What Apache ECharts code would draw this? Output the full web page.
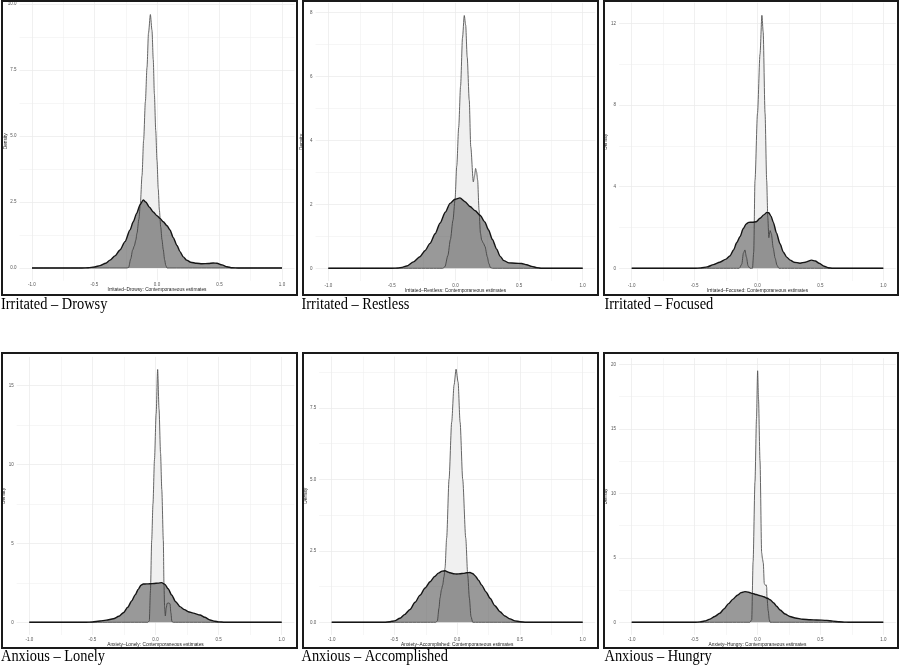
<!DOCTYPE html>
<html lang="en" style="height: 100%">
<head>
    <meta charset="utf-8">
    <title>Contemporaneous estimates - density</title>
    <script src="https://cdn.jsdelivr.net/npm/echarts@6.0.0/dist/echarts.min.js"></script>
    <style>
        body { margin: 0; background: #fff; }
        #main { width: 900px; height: 667px; }
    </style>
</head>
<body>
<div id="main"></div>
<script>
    // panel captions and axis titles
    var captions = ['Irritated – Drowsy', 'Irritated – Restless', 'Irritated – Focused',
                    'Anxious – Lonely', 'Anxious – Accomplished', 'Anxious – Hungry'];
    var xTitles = ['Irritated–Drowsy: Contemporaneous estimates',
                   'Irritated–Restless: Contemporaneous estimates',
                   'Irritated–Focused: Contemporaneous estimates',
                   'Anxiety–Lonely: Contemporaneous estimates',
                   'Anxiety–Accomplished: Contemporaneous estimates',
                   'Anxiety–Hungry: Contemporaneous estimates'];
    var xTickLabels = ['-1.0', '-0.5', '0.0', '0.5', '1.0'];
    var xMinorTicks = [-0.75, -0.25, 0.25, 0.75];
    var yTickLabels = [
        ['0.0', '2.5', '5.0', '7.5', '10.0'],
        ['0', '2', '4', '6', '8'],
        ['0', '4', '8', '12'],
        ['0', '5', '10', '15'],
        ['0.0', '2.5', '5.0', '7.5'],
        ['0', '5', '10', '15', '20']
    ];

    // density curves: [estimate, density]
    var drowsyNarrow = [[-1,0],[-0.24,0],[-0.227,0.02],[-0.21,0.35],[-0.195,0.68],[-0.181,0.84],[-0.17,1.05],[-0.16,1.32],[-0.145,1.85],[-0.133,2.45],[-0.12,3.5],[-0.107,4.84],[-0.093,6.3],[-0.08,7.6],[-0.068,8.9],[-0.053,9.6],[-0.04,9.0],[-0.03,7.9],[-0.021,6.6],[-0.01,5.2],[0,4.08],[0.01,3.0],[0.019,2.2],[0.03,1.55],[0.04,1.07],[0.05,0.7],[0.061,0.31],[0.07,0.1],[0.08,0],[1,0]];
    var drowsyWide = [[-1,0],[-0.6,0],[-0.55,0.01],[-0.5,0.04],[-0.456,0.09],[-0.41,0.18],[-0.376,0.3],[-0.336,0.46],[-0.296,0.68],[-0.256,1.0],[-0.216,1.44],[-0.19,1.75],[-0.163,2.07],[-0.135,2.4],[-0.11,2.58],[-0.09,2.5],[-0.06,2.3],[-0.03,2.12],[0,1.98],[0.024,1.88],[0.05,1.75],[0.08,1.6],[0.104,1.44],[0.13,1.15],[0.16,0.85],[0.184,0.62],[0.21,0.42],[0.237,0.3],[0.27,0.22],[0.317,0.18],[0.36,0.16],[0.41,0.17],[0.45,0.19],[0.48,0.18],[0.52,0.12],[0.56,0.05],[0.6,0.01],[0.65,0],[1,0]];

    var restlessNarrow = [[-1,0],[-0.1,0],[-0.083,0.05],[-0.06,0.4],[-0.04,0.9],[-0.02,1.5],[-0.004,2.13],[0.01,3.2],[0.025,4.4],[0.04,5.7],[0.055,7.2],[0.069,7.9],[0.08,7.6],[0.092,6.6],[0.108,5.26],[0.12,3.8],[0.14,2.7],[0.15,2.9],[0.158,3.12],[0.166,3.0],[0.174,2.76],[0.185,1.82],[0.196,1.1],[0.206,0.88],[0.22,0.78],[0.232,0.68],[0.25,0.36],[0.262,0.15],[0.275,0.02],[0.29,0],[1,0]];
    var restlessWide = [[-1,0],[-0.5,0],[-0.45,0.01],[-0.42,0.03],[-0.384,0.07],[-0.33,0.2],[-0.28,0.36],[-0.24,0.55],[-0.2,0.78],[-0.16,1.08],[-0.122,1.41],[-0.08,1.75],[-0.043,2.03],[-0.004,2.16],[0.035,2.2],[0.075,2.08],[0.114,1.93],[0.155,1.8],[0.193,1.66],[0.23,1.45],[0.26,1.2],[0.29,0.9],[0.324,0.6],[0.35,0.38],[0.38,0.24],[0.42,0.17],[0.47,0.16],[0.52,0.15],[0.56,0.11],[0.6,0.06],[0.64,0.02],[0.68,0],[1,0]];

    var focusedNarrow = [[-1,0],[-0.145,0],[-0.125,0.2],[-0.112,0.75],[-0.1,0.9],[-0.088,0.55],[-0.075,0.12],[-0.06,0],[-0.04,0],[-0.03,0.8],[-0.02,4.3],[0,7.6],[0.02,10.5],[0.035,12.4],[0.045,11.6],[0.06,7.6],[0.073,4.3],[0.082,2.5],[0.09,1.5],[0.1,1.85],[0.11,1.7],[0.125,1.0],[0.14,0.5],[0.155,0.15],[0.17,0],[1,0]];
    var focusedWide = [[-1,0],[-0.5,0],[-0.45,0.02],[-0.4,0.07],[-0.35,0.18],[-0.3,0.3],[-0.25,0.45],[-0.22,0.6],[-0.19,0.9],[-0.166,1.25],[-0.139,1.55],[-0.113,1.95],[-0.09,2.18],[-0.07,2.25],[-0.04,2.26],[-0.01,2.28],[0.02,2.45],[0.05,2.62],[0.075,2.74],[0.09,2.72],[0.108,2.55],[0.126,2.25],[0.15,1.75],[0.179,1.2],[0.205,0.8],[0.232,0.55],[0.26,0.4],[0.29,0.3],[0.338,0.25],[0.38,0.3],[0.43,0.4],[0.46,0.36],[0.49,0.25],[0.53,0.1],[0.56,0.03],[0.6,0],[1,0]];

    var lonelyNarrow = [[-1,0],[-0.06,0],[-0.049,0.1],[-0.04,2.0],[-0.03,5.2],[-0.02,7.5],[-0.008,10.3],[0.005,13.2],[0.017,16.0],[0.028,13.5],[0.04,10.7],[0.05,8.4],[0.062,5.2],[0.067,2.5],[0.072,1.0],[0.078,0.4],[0.085,0.9],[0.092,1.2],[0.105,1.22],[0.115,1.18],[0.122,0.6],[0.13,0.05],[0.14,0],[1,0]];
    var lonelyWide = [[-1,0],[-0.55,0],[-0.5,0.02],[-0.44,0.08],[-0.39,0.14],[-0.334,0.22],[-0.29,0.38],[-0.255,0.6],[-0.22,0.95],[-0.189,1.35],[-0.16,1.75],[-0.136,2.1],[-0.115,2.35],[-0.097,2.42],[-0.07,2.43],[-0.044,2.44],[-0.01,2.46],[0.02,2.48],[0.049,2.51],[0.075,2.4],[0.1,2.12],[0.128,1.73],[0.16,1.3],[0.194,0.99],[0.23,0.8],[0.26,0.67],[0.3,0.58],[0.353,0.46],[0.39,0.32],[0.432,0.15],[0.47,0.07],[0.5,0.03],[0.55,0],[1,0]];

    var accomplishedNarrow = [[-1,0],[-0.17,0],[-0.158,0.05],[-0.145,0.5],[-0.137,0.85],[-0.125,1.15],[-0.116,1.3],[-0.105,1.6],[-0.097,1.9],[-0.084,2.95],[-0.065,5.0],[-0.044,7.0],[-0.025,8.3],[-0.009,8.85],[0.007,8.4],[0.023,7.0],[0.044,5.0],[0.068,2.95],[0.084,1.65],[0.097,0.85],[0.11,0.2],[0.124,0],[1,0]];
    var accomplishedWide = [[-1,0],[-0.58,0],[-0.535,0.02],[-0.5,0.05],[-0.456,0.14],[-0.42,0.27],[-0.376,0.45],[-0.336,0.7],[-0.296,0.95],[-0.256,1.2],[-0.216,1.42],[-0.18,1.6],[-0.15,1.72],[-0.12,1.79],[-0.097,1.8],[-0.075,1.76],[-0.057,1.73],[-0.03,1.7],[-0.004,1.69],[0.025,1.7],[0.049,1.71],[0.075,1.73],[0.102,1.74],[0.125,1.7],[0.142,1.63],[0.17,1.47],[0.195,1.3],[0.23,1.06],[0.262,0.84],[0.3,0.58],[0.341,0.37],[0.38,0.22],[0.421,0.12],[0.46,0.05],[0.5,0.02],[0.55,0],[1,0]];

    var hungryNarrow = [[-1,0],[-0.06,0],[-0.046,0.2],[-0.035,4.7],[-0.02,10.9],[-0.008,15.8],[0.001,19.5],[0.008,17.3],[0.02,12.5],[0.033,5.4],[0.04,4.9],[0.046,4.6],[0.054,3.0],[0.065,2.85],[0.07,2.9],[0.073,2.7],[0.075,2.0],[0.085,0.9],[0.094,0.2],[0.1,0],[1,0]];
    var hungryWide = [[-1,0],[-0.5,0],[-0.457,0.03],[-0.42,0.1],[-0.377,0.25],[-0.34,0.45],[-0.3,0.7],[-0.265,1.05],[-0.23,1.45],[-0.195,1.8],[-0.16,2.1],[-0.13,2.3],[-0.1,2.38],[-0.07,2.33],[-0.04,2.24],[-0.01,2.15],[0.02,2.07],[0.05,1.98],[0.08,1.86],[0.1,1.75],[0.13,1.5],[0.152,1.25],[0.18,0.95],[0.219,0.64],[0.258,0.45],[0.3,0.33],[0.36,0.24],[0.42,0.2],[0.47,0.18],[0.55,0.15],[0.6,0.09],[0.65,0.04],[0.7,0.01],[0.75,0],[1,0]];

    var narrowCurves = [drowsyNarrow, restlessNarrow, focusedNarrow, lonelyNarrow, accomplishedNarrow, hungryNarrow];
    var wideCurves = [drowsyWide, restlessWide, focusedWide, lonelyWide, accomplishedWide, hungryWide];

    // pixel layout of each panel: where x=-1, x=1 and y=0 fall, px per density unit, frame box
    var layout = [
        { x0: 32,    x1: 282,   base: 268,   ppu: 26.4, box: [2, 1, 295, 294],     cap: [1, 304.5] },
        { x0: 328.3, x1: 582.7, base: 268.3, ppu: 32,   box: [303, 1, 295, 294],   cap: [301.5, 304.5] },
        { x0: 631.7, x1: 883.3, base: 268.3, ppu: 20.4, box: [604, 1, 294, 294],   cap: [604.5, 304.5] },
        { x0: 29.3,  x1: 281.7, base: 622.3, ppu: 15.8, box: [2, 353, 295, 295],   cap: [1, 656.5] },
        { x0: 331.7, x1: 582.7, base: 622.3, ppu: 28.6, box: [303, 353, 295, 295], cap: [301.5, 656.5] },
        { x0: 631.7, x1: 883.3, base: 622.3, ppu: 12.9, box: [604, 353, 294, 295], cap: [604.5, 656.5] }
    ];

    var FONT = '"Liberation Sans", Arial, sans-serif';
    var grids = [], xAxes = [], yAxes = [], series = [], graphics = [];

    layout.forEach(function (p, i) {
        var all = narrowCurves[i].concat(wideCurves[i]);
        var peak = Math.max.apply(null, all.map(function (d) { return d[1]; }));
        var yMin = -0.05 * peak, yMax = 1.05 * peak;   // ggplot-style 5% expansion
        var ppx = (p.x1 - p.x0) / 2;

        grids.push({
            left: p.x0 - 0.1 * ppx, width: 2.2 * ppx,
            top: p.base - yMax * p.ppu, height: (yMax - yMin) * p.ppu,
            containLabel: false, outerBoundsMode: 'none'
        });

        var yTicks = yTickLabels[i].map(parseFloat);
        var yStep = yTicks[1] - yTicks[0];
        var yMinor = yTicks.map(function (t) { return t + yStep / 2; })
                           .filter(function (t) { return t < yMax; });

        xAxes.push({
            gridIndex: i, type: 'value', min: -1.1, max: 1.1,
            axisLine: { show: false }, axisTick: { show: false }, splitLine: { show: false },
            axisLabel: {
                customValues: xTickLabels.map(parseFloat),
                formatter: function (v) { return v.toFixed(1); },
                fontSize: 4.5, color: '#555', margin: 2, fontFamily: FONT
            },
            name: xTitles[i], nameLocation: 'middle', nameGap: 7, nameMoveOverlap: false,
            nameTextStyle: { fontSize: 4.8, color: '#222', fontFamily: FONT }
        });
        yAxes.push({
            gridIndex: i, type: 'value', min: yMin, max: yMax,
            axisLine: { show: false }, axisTick: { show: false }, splitLine: { show: false },
            axisLabel: {
                customValues: yTicks,
                formatter: function (v) {
                    var k = yTicks.indexOf(v);
                    return k >= 0 ? yTickLabels[i][k] : '';
                },
                fontSize: 4.5, color: '#555', margin: 3, fontFamily: FONT
            },
            name: 'Density', nameLocation: 'middle', nameRotate: 90, nameGap: 11,
            nameMoveOverlap: false,
            nameTextStyle: { fontSize: 4.8, color: '#222', fontFamily: FONT }
        });

        // grid lines (theme_minimal look) drawn as mark lines behind the curves
        var gl = [];
        xTickLabels.forEach(function (t) { gl.push({ xAxis: parseFloat(t), lineStyle: { width: 0.8 } }); });
        xMinorTicks.forEach(function (t) { gl.push({ xAxis: t, lineStyle: { width: 0.5 } }); });
        yTicks.forEach(function (t) { gl.push({ yAxis: t, lineStyle: { width: 0.8 } }); });
        yMinor.forEach(function (t) { gl.push({ yAxis: t, lineStyle: { width: 0.5 } }); });

        series.push({
            type: 'line', xAxisIndex: i, yAxisIndex: i, data: [], z: 1,
            markLine: {
                z: 1, silent: true, symbol: ['none', 'none'], animation: false,
                label: { show: false },
                lineStyle: { color: '#ececec', type: 'solid' },
                data: gl
            }
        });
        // narrow (light) density
        series.push({
            type: 'line', xAxisIndex: i, yAxisIndex: i, data: narrowCurves[i], z: 2,
            showSymbol: false, symbol: 'none', smooth: 0.25, smoothMonotone: 'x',
            lineStyle: { color: '#555', width: 0.9 },
            areaStyle: { color: '#f0f0f0', opacity: 1 }
        });
        // wide (dark, translucent) density
        series.push({
            type: 'line', xAxisIndex: i, yAxisIndex: i, data: wideCurves[i], z: 3,
            showSymbol: false, symbol: 'none', smooth: 0.25, smoothMonotone: 'x',
            lineStyle: { color: '#151515', width: 1.4 },
            areaStyle: { color: 'rgba(51,51,51,0.5)', opacity: 1 }
        });

        // panel frame and caption
        graphics.push({
            type: 'rect', z: 10, silent: true,
            shape: { x: p.box[0], y: p.box[1], width: p.box[2], height: p.box[3] },
            style: { fill: 'none', stroke: '#1a1a1a', lineWidth: 2 }
        });
        graphics.push({
            type: 'text', z: 10, silent: true, x: p.cap[0], y: p.cap[1], scaleX: 0.9,
            style: {
                text: captions[i], fill: '#000', verticalAlign: 'middle',
                font: '16px "Liberation Serif", "Times New Roman", serif'
            }
        });
    });

    var chart = echarts.init(document.getElementById('main'));
    chart.setOption({
        animation: false,
        grid: grids,
        xAxis: xAxes,
        yAxis: yAxes,
        series: series,
        graphic: graphics
    });
</script>
</body>
</html>
